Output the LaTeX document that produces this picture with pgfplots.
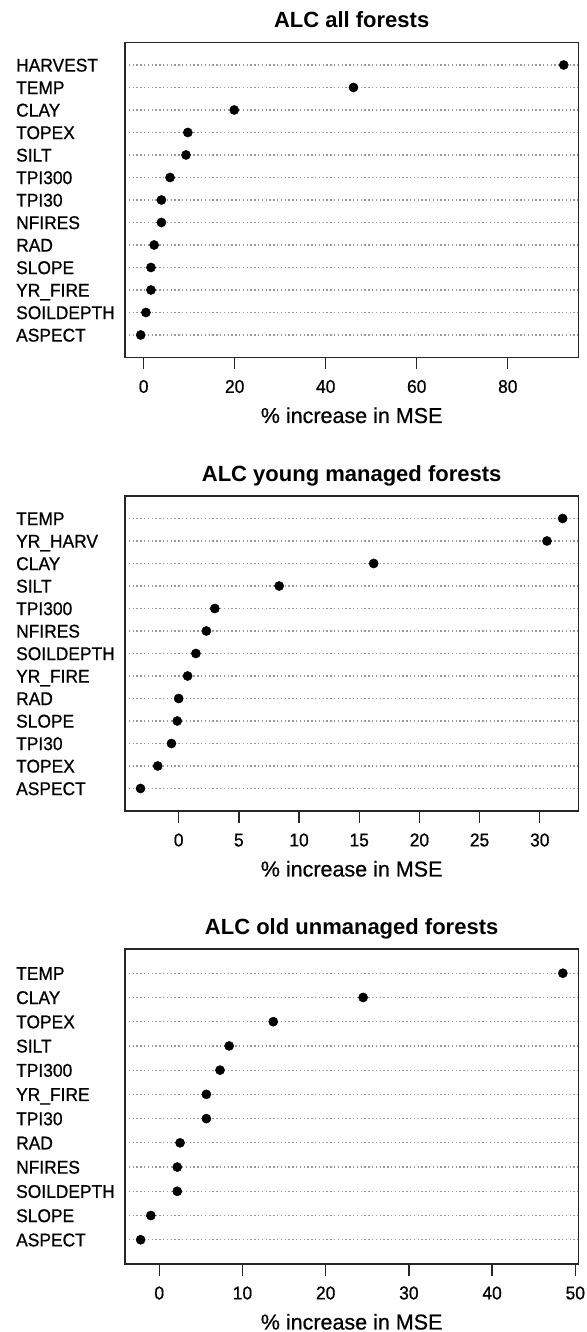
\documentclass[border=0pt]{standalone}
\usepackage{fontspec}
\setmainfont{Liberation Sans}
\newfontfamily\tickfont{Liberation Sans}[FakeStretch=0.94, FakeBold=0.7]
\newfontfamily\labfont{Liberation Sans}[FakeBold=0.7]
\usepackage{pgfplots}
\pgfplotsset{compat=1.18}
\pgfplotsset{
  dotpanel/.style={
    scale only axis,
    width=453.3pt,
    height=315pt,
    anchor=south west,
    axis line style={line width=1.4pt, draw=black!85},
    tick align=outside,
    xtick pos=bottom,
    ytick pos=left,
    major tick length=12pt,
    xtick style={line width=1.4pt, draw=black!85},
    ytick style={draw=none},
    ymajorgrids,
    grid style={line width=1.2pt, draw=black!40, dash pattern=on 1.4pt off 2.4pt},
    /pgf/number format/assume math mode=true,
    xticklabel style={font=\tickfont\fontsize{18.5}{18.5}\selectfont, anchor=base, yshift=-23.4pt, inner sep=0pt},
    yticklabel style={font=\tickfont\fontsize{18.5}{18.5}\selectfont, anchor=base west, inner sep=0pt, xshift=-97pt, yshift=-6.6pt},
    ytick={1,...,13},
    xlabel={\% increase in MSE},
    xlabel style={font=\labfont\fontsize{21.5}{21.5}\selectfont, at={(axis description cs:0.5,0)}, anchor=base, yshift=-65.5pt, inner sep=0pt},
    title style={font=\bfseries\fontsize{22}{22}\selectfont, at={(axis description cs:0.5,1)}, anchor=base, yshift=8.5pt, inner sep=0pt},
  },
  dots/.style={only marks, mark=*, mark size=4.6pt, color=black, mark options={fill=black, draw=black}},
}
\begin{document}
\begin{tikzpicture}
\useasboundingbox (0pt,0pt) rectangle (586pt,1332pt);
% Panel 1
\begin{axis}[dotpanel,
  at={(125pt,974.5pt)},
  title={ALC all forests},
  xmin=-4.1, xmax=95.5, ymin=0, ymax=14,
  xtick={0,20,40,60,80},
  yticklabels={ASPECT,SOILDEPTH,YR\_FIRE,SLOPE,RAD,NFIRES,TPI30,TPI300,SILT,TOPEX,CLAY,TEMP,HARVEST},
]
\addplot[dots] coordinates {
(-0.65,1) (0.5,2) (1.6,3) (1.6,4) (2.3,5) (3.9,6) (3.9,7) (5.8,8) (9.3,9) (9.7,10) (19.9,11) (46.1,12) (92.3,13)
};
\end{axis}
% Panel 2
\begin{axis}[dotpanel,
  at={(125pt,521pt)},
  title={ALC young managed forests},
  xmin=-4.46, xmax=33.2, ymin=0, ymax=14,
  xtick={0,5,10,15,20,25,30},
  yticklabels={ASPECT,TOPEX,TPI30,SLOPE,RAD,YR\_FIRE,SOILDEPTH,NFIRES,TPI300,SILT,CLAY,YR\_HARV,TEMP},
]
\addplot[dots] coordinates {
(-3.17,1) (-1.74,2) (-0.6,3) (-0.12,4) (0.0,5) (0.74,6) (1.43,7) (2.3,8) (3.0,9) (8.35,10) (16.2,11) (30.6,12) (31.9,13)
};
\end{axis}
% Panel 3
\begin{axis}[dotpanel,
  at={(125pt,68pt)},
  title={ALC old unmanaged forests},
  xmin=-4.12, xmax=50.36, ymin=0, ymax=13,
  xtick={0,10,20,30,40,50},
  ytick={1,...,12},
  yticklabels={ASPECT,SLOPE,SOILDEPTH,NFIRES,RAD,TPI30,YR\_FIRE,TPI300,SILT,TOPEX,CLAY,TEMP},
]
\addplot[dots] coordinates {
(-2.24,1) (-1.02,2) (2.16,3) (2.16,4) (2.5,5) (5.66,6) (5.66,7) (7.3,8) (8.4,9) (13.7,10) (24.5,11) (48.5,12)
};
\end{axis}
\end{tikzpicture}
\end{document}
